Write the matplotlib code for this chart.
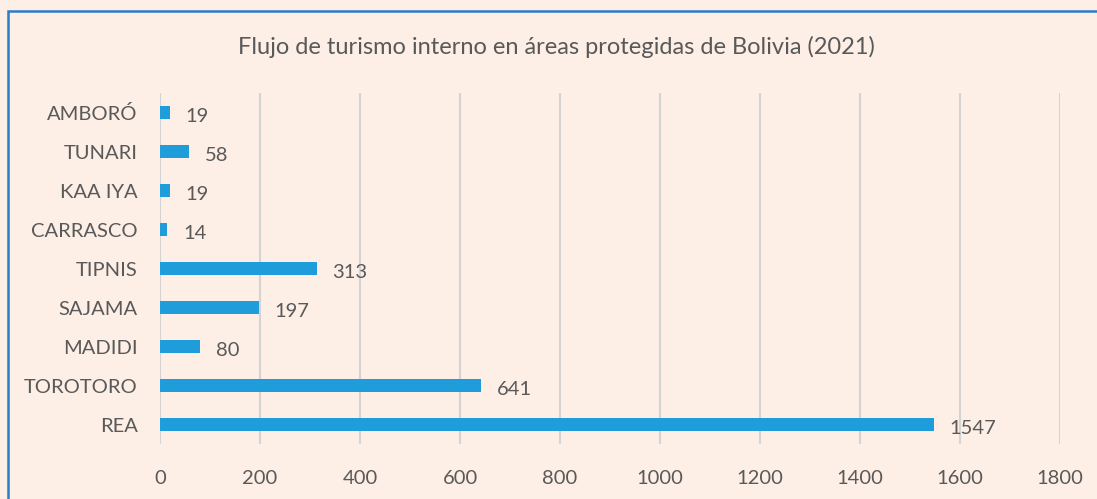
import matplotlib.pyplot as plt
from matplotlib.patches import Rectangle

# data
areas = ["AMBORÓ", "TUNARI", "KAA IYA", "CARRASCO", "TIPNIS", "SAJAMA", "MADIDI", "TOROTORO", "REA"]
visitantes = [19, 58, 19, 14, 313, 197, 80, 641, 1547]
ticks = [0, 200, 400, 600, 800, 1000, 1200, 1400, 1600, 1800]

bg = "#FDEFE6"
bar_color = "#1F9DDB"
text_color = "#595959"

plt.rcParams['font.family'] = ['Lato', 'DejaVu Sans']

fig = plt.figure(figsize=(10.97, 4.99), dpi=100, facecolor=bg)
ax = fig.add_axes([0.1459, 0.1102, 0.8204, 0.7034])
ax.set_facecolor(bg)

pos = list(range(len(areas)))
ax.barh(pos, visitantes, height=0.33, color=bar_color, zorder=3)

for p, v in zip(pos, visitantes):
    ax.annotate(str(v), (v, p), xytext=(16, -4), textcoords="offset pixels",
                va="center", ha="left", fontsize=14.5, color=text_color)

ax.set_ylim(len(areas) - 0.5, -0.5)
ax.set_xlim(0, 1800)
ax.set_xticks(ticks)
ax.set_xticklabels([str(t) for t in ticks])
ax.set_yticks(pos)
ax.set_yticklabels(areas)
ax.tick_params(length=0, labelsize=14.5, colors=text_color)
ax.tick_params(axis="x", pad=19)
ax.tick_params(axis="y", pad=16)
ax.grid(axis="x", color="#D4D4D4", linewidth=1.5, zorder=0)
for s in ax.spines.values():
    s.set_visible(False)

fig.text(0.507, 0.905, "Flujo de turismo interno en áreas protegidas de Bolivia (2021)",
         ha="center", va="center", fontsize=17, color=text_color)

# blue frame round the chart
fig.patches.append(Rectangle((7.5 / 1097, -0.05), 1.1, 1 - 10.5 / 499 + 0.05,
                             transform=fig.transFigure, fill=False,
                             edgecolor="#2B7CC9", linewidth=1.8))

fig.savefig("out.png", dpi=100, facecolor=bg)
